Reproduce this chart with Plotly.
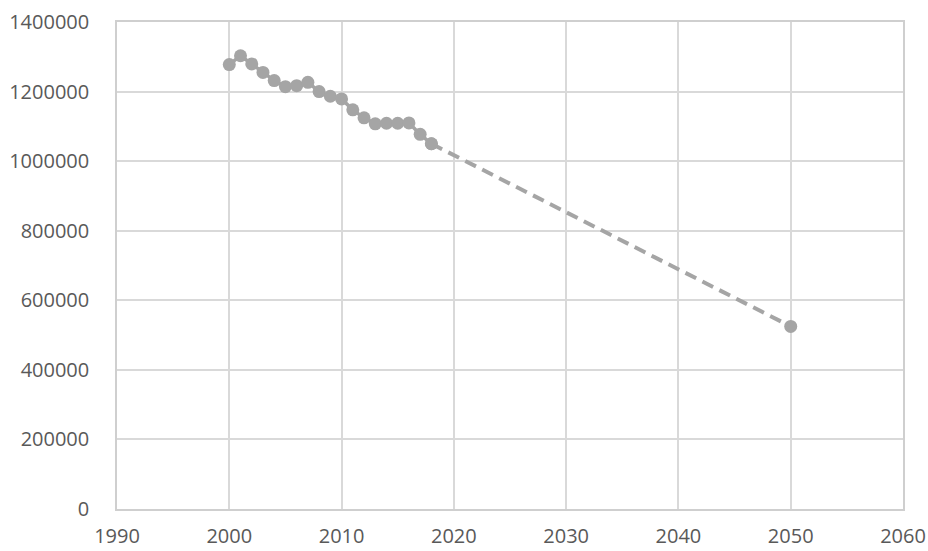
import plotly.graph_objects as go

years = list(range(2000, 2019))
values = [1277500, 1303000, 1279500, 1255000, 1231600, 1214000, 1217000, 1226700,
          1200000, 1186500, 1179000, 1147500, 1124500, 1107300, 1109000, 1109000,
          1110000, 1077000, 1050000]

proj_years = [2018, 2050]
proj_values = [1050000, 525000]

x_ticks = [1990, 2000, 2010, 2020, 2030, 2040, 2050, 2060]
y_ticks = [0, 200000, 400000, 600000, 800000, 1000000, 1200000, 1400000]

grey = "#A5A5A5"

fig = go.Figure()
fig.add_trace(go.Scatter(
    x=proj_years, y=proj_values, mode="lines+markers",
    line=dict(color=grey, width=4, dash="12px,7px"),
    marker=dict(color=grey, size=13),
    showlegend=False, hoverinfo="skip"))
fig.add_trace(go.Scatter(
    x=years, y=values, mode="lines+markers",
    line=dict(color=grey, width=3.5),
    marker=dict(color=grey, size=13),
    showlegend=False))

font = dict(family="Open Sans", size=20, color="#595959")

fig.update_layout(
    width=928, height=551,
    margin=dict(l=117, r=25, t=22, b=42),
    paper_bgcolor="white", plot_bgcolor="white",
    showlegend=False,
    xaxis=dict(range=[1990, 2060], tickvals=x_ticks, ticktext=[str(v) for v in x_ticks],
               showgrid=True, gridcolor="#D9D9D9", gridwidth=1.5,
               showline=True, linecolor="#CFCFCF", linewidth=1.5, mirror=True,
               zeroline=False, ticks="", tickfont=font, ticklabelstandoff=8,
               automargin=False),
    yaxis=dict(range=[0, 1400000], tickvals=y_ticks, ticktext=[str(v) for v in y_ticks],
               showgrid=True, gridcolor="#D9D9D9", gridwidth=1.5,
               showline=True, linecolor="#CFCFCF", linewidth=1.5, mirror=True,
               zeroline=False, ticks="", tickfont=font, ticklabelstandoff=22,
               automargin=False),
)

fig.write_html(
    "out.html",
    config={"displayModeBar": False},
    post_script="document.body.style.margin='0';document.body.style.overflow='hidden';",
)
